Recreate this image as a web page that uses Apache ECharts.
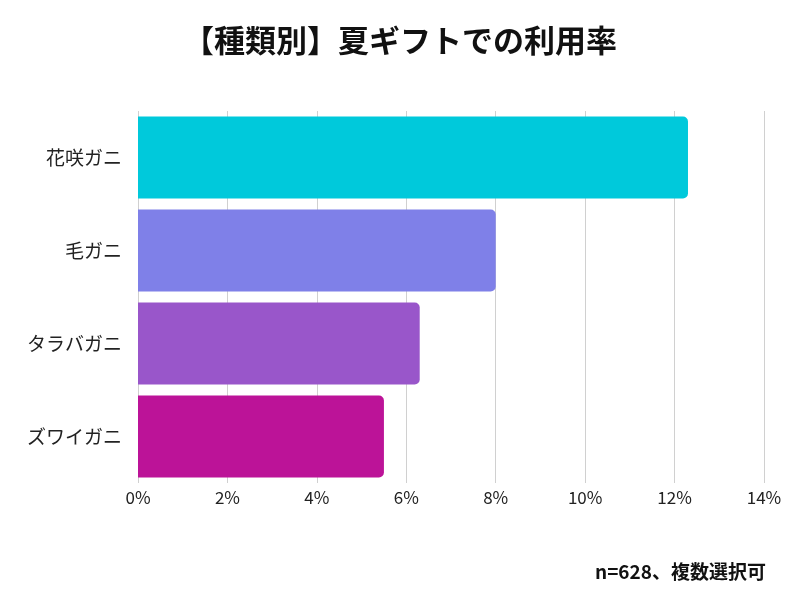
<!DOCTYPE html>
<html>
<head>
<meta charset="utf-8">
<script src="https://cdn.jsdelivr.net/npm/echarts@6/dist/echarts.min.js"></script>
<style>html,body{margin:0;padding:0;background:#fff}#chart{width:800px;height:600px}</style>
</head>
<body>
<div id="chart"></div>
<script>
var categories = ['花咲ガニ', '毛ガニ', 'タラバガニ', 'ズワイガニ'];
var values = [12.3, 8.0, 6.3, 5.5];
var colors = ['#00c9db', '#7f80e8', '#9956ca', '#bc1398'];

var chart = echarts.init(document.getElementById('chart'));
var font = '"Noto Sans CJK JP", "Noto Sans", sans-serif';
chart.setOption({
    animation: false,
    textStyle: { fontFamily: font },
    title: {
        text: '【種類別】夏ギフトでの利用率',
        left: 'center',
        top: 20,
        textStyle: { fontSize: 31, fontWeight: 'bold', color: '#111', fontFamily: font }
    },
    graphic: [{
        type: 'text', right: 34, top: 562,
        style: { text: 'n=628、複数選択可', fontSize: 19, fontWeight: 'bold', fill: '#111', fontFamily: font }
    }],
    grid: { left: 138, right: 36, top: 111, bottom: 117 },
    xAxis: {
        type: 'value', min: 0, max: 14, interval: 2,
        axisLabel: { formatter: '{value}%', fontSize: 17, color: '#222', margin: 6 },
        splitLine: { lineStyle: { color: '#d0d0d0' } },
        axisLine: { show: false }, axisTick: { show: false }
    },
    yAxis: {
        type: 'category', inverse: true, data: categories,
        axisLabel: { fontSize: 19, color: '#222', margin: 16 },
        axisLine: { show: false }, axisTick: { show: false }
    },
    series: [{
        type: 'bar', barCategoryGap: '12%',
        data: values.map(function (v, i) {
            return { value: v, itemStyle: { color: colors[i], borderRadius: [0, 5, 5, 0] } };
        })
    }]
});
</script>
</body>
</html>
